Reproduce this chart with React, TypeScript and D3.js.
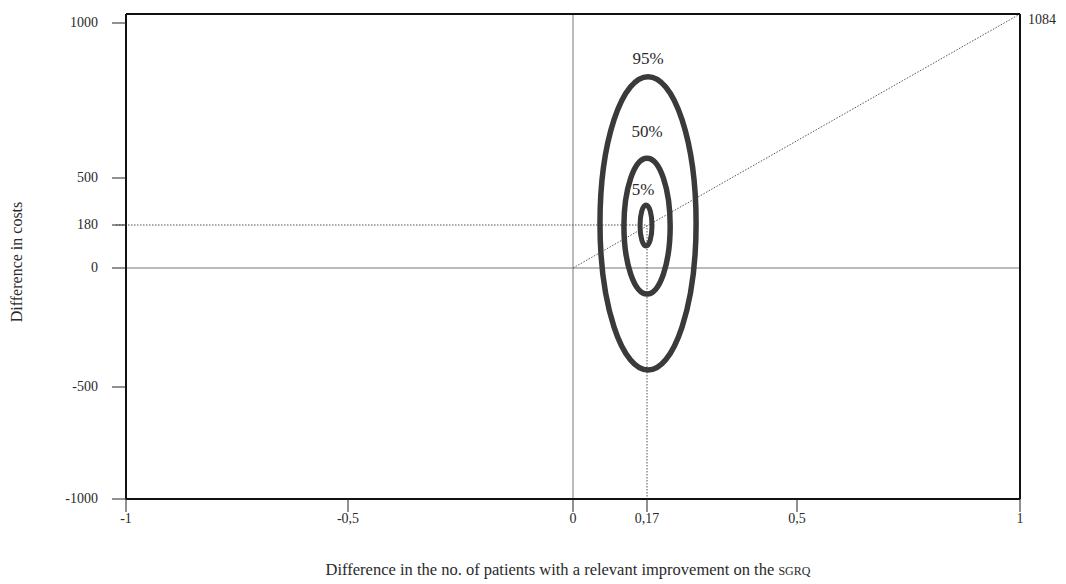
import React from "react";
import * as d3 from "d3";

const xTickValues = [-1, -0.5, 0, 0.17, 0.5, 1];
const xTickLabels = ["-1", "-0,5", "0", "0,17", "0,5", "1"];
const yTickValues = [-1000, -500, 0, 180, 500, 1000];
const yTickLabels = ["-1000", "-500", "0", "180", "500", "1000"];

// axis break points of the original (non-uniform) drawing
const xDomainPts = [-1, -0.5, 0, 0.17, 0.5, 1];
const yDomainPts = [-1000, -500, 0, 180, 500, 1000, 1084];

const centerX = 0.17;
const centerY = 180;
const ceilingValue = 1084;

const ellipseLabels = ["95%", "50%", "5%"];
const ellipseXMin = [0.062, 0.117, 0.154];
const ellipseXMax = [0.278, 0.221, 0.181];
const ellipseYMin = [-429, -109, 92];
const ellipseYMax = [827, 564, 316];

const W = 1066;
const H = 584;
const FONT = "'Liberation Serif', 'DejaVu Serif', serif";

export default function App() {
  const x = d3
    .scaleLinear()
    .domain(xDomainPts)
    .range([126, 348, 573, 647, 797, 1020]);
  const y = d3
    .scaleLinear()
    .domain(yDomainPts)
    .range([499, 387, 268, 225, 178, 23, 14]);

  const left = x(-1);
  const right = x(1);
  const top = y(ceilingValue);
  const bottom = y(-1000);
  const ink = "#2a2a2a";
  const labelGap = [13, 21, 10];

  return (
    <svg
      width={W}
      height={H}
      style={{ position: "absolute", left: 0, top: 0, background: "#fff" }}
      fontFamily={FONT}
    >
      <rect width={W} height={H} fill="#fff" />
      {/* zero lines */}
      <line x1={x(0)} x2={x(0)} y1={top} y2={bottom} stroke="#777" strokeWidth={1} />
      <line x1={left} x2={right} y1={y(0)} y2={y(0)} stroke="#777" strokeWidth={1} />
      {/* dotted guides */}
      <line
        x1={left - 10}
        x2={x(centerX)}
        y1={y(centerY)}
        y2={y(centerY)}
        stroke="#555"
        strokeWidth={1}
        strokeDasharray="1.5,1.5"
      />
      <line
        x1={x(centerX)}
        x2={x(centerX)}
        y1={y(centerY)}
        y2={bottom}
        stroke="#555"
        strokeWidth={1}
        strokeDasharray="1.5,1.5"
      />
      <line
        x1={x(0)}
        y1={y(0)}
        x2={x(1)}
        y2={y(ceilingValue)}
        stroke="#555"
        strokeWidth={1}
        strokeDasharray="1.5,1.5"
      />
      {/* frame */}
      <line x1={left} x2={right} y1={top} y2={top} stroke="#111" strokeWidth={2} />
      <line x1={right} x2={right} y1={top} y2={bottom} stroke="#111" strokeWidth={2} />
      <line x1={left} x2={left} y1={top} y2={bottom} stroke="#111" strokeWidth={2} />
      <line x1={left} x2={right} y1={bottom} y2={bottom} stroke="#111" strokeWidth={2} />

      {/* ellipses */}
      {ellipseLabels.map((lab, i) => {
        const x0 = x(ellipseXMin[i]);
        const x1 = x(ellipseXMax[i]);
        const y0 = y(ellipseYMax[i]);
        const y1 = y(ellipseYMin[i]);
        return (
          <ellipse
            key={lab}
            cx={(x0 + x1) / 2}
            cy={(y0 + y1) / 2}
            rx={(x1 - x0) / 2}
            ry={(y1 - y0) / 2}
            fill="none"
            stroke="#3a3a3a"
            strokeWidth={i === 2 ? 5 : 5.5}
          />
        );
      })}
      {ellipseLabels.map((lab, i) => {
        const x0 = x(ellipseXMin[i]);
        const x1 = x(ellipseXMax[i]);
        const y0 = y(ellipseYMax[i]);
        return (
          <text
            key={"l" + lab}
            x={(x0 + x1) / 2 - (i === 2 ? 3 : 0)}
            y={y0 - labelGap[i]}
            textAnchor="middle"
            fontSize={17}
            fill={ink}
          >
            {lab}
          </text>
        );
      })}

      {/* y ticks */}
      {yTickValues.map((v, i) => (
        <g key={"y" + v}>
          <line x1={left - 14} x2={left} y1={y(v)} y2={y(v)} stroke="#222" strokeWidth={1} />
          <text
            x={98}
            y={y(v)}
            dy="0.3em"
            textAnchor="end"
            fontSize={14}
            fill={ink}
          >
            {yTickLabels[i]}
          </text>
        </g>
      ))}
      <text x={1028} y={y(ceilingValue) + 10} fontSize={14} fill={ink}>
        {String(ceilingValue)}
      </text>

      {/* x ticks */}
      {xTickValues.map((v, i) => (
        <g key={"x" + v}>
          <line x1={x(v)} x2={x(v)} y1={bottom} y2={bottom + 13} stroke="#222" strokeWidth={1} />
          <text x={x(v)} y={bottom + 24} textAnchor="middle" fontSize={14} fill={ink}>
            {xTickLabels[i]}
          </text>
        </g>
      ))}

      {/* axis titles */}
      <text
        transform={`translate(22,${y(0) - 6}) rotate(-90)`}
        textAnchor="middle"
        fontSize={16}
        fill={ink}
      >
        Difference in costs
      </text>
      <text x={568} y={575} textAnchor="middle" fontSize={16.5} fill={ink}>
        Difference in the no. of patients with a relevant improvement on the{" "}
        <tspan fontSize={12}>SGRQ</tspan>
      </text>
    </svg>
  );
}
